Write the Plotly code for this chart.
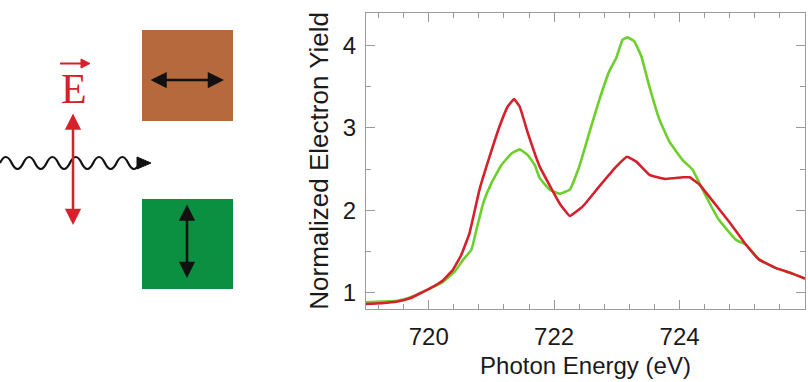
import plotly.graph_objects as go

W, H = 808, 382

# ---- data ----
red_x = [719.0, 719.25, 719.5, 719.7, 720.02, 720.23, 720.39, 720.52, 720.65, 720.81, 720.97,
         721.13, 721.26, 721.36, 721.45, 721.58, 721.77, 721.93, 722.09, 722.25, 722.46, 722.72,
         722.99, 723.16, 723.31, 723.52, 723.78, 724.05, 724.16, 724.32, 724.53, 724.79, 725.06,
         725.27, 725.53, 725.80, 726.0]
red_y = [0.86, 0.87, 0.89, 0.93, 1.05, 1.15, 1.28, 1.46, 1.72, 2.25, 2.65,
         3.02, 3.26, 3.35, 3.26, 2.94, 2.53, 2.30, 2.08, 1.93, 2.05, 2.29,
         2.53, 2.65, 2.59, 2.43, 2.38, 2.40, 2.40, 2.31, 2.11, 1.86, 1.58,
         1.40, 1.30, 1.23, 1.17]

green_x = [719.0, 719.25, 719.5, 719.7, 720.02, 720.23, 720.42, 720.55, 720.68, 720.76, 720.87,
           721.0, 721.16, 721.32, 721.45, 721.58, 721.69, 721.77, 721.93, 722.09, 722.25, 722.40,
           722.56, 722.72, 722.88, 722.99, 723.09, 723.17, 723.28, 723.39, 723.52, 723.68, 723.84,
           724.05, 724.21, 724.42, 724.63, 724.90, 725.06, 725.27, 725.53, 725.80, 726.0]
green_y = [0.88, 0.89, 0.90, 0.94, 1.05, 1.13, 1.26, 1.40, 1.52, 1.76, 2.09,
           2.33, 2.55, 2.69, 2.74, 2.67, 2.55, 2.39, 2.25, 2.20, 2.25, 2.53,
           2.94, 3.34, 3.69, 3.85, 4.07, 4.10, 4.05, 3.87, 3.50, 3.10, 2.83,
           2.61, 2.49, 2.17, 1.88, 1.64, 1.58, 1.40, 1.30, 1.23, 1.17]

x_ticks = [720, 722, 724]
y_ticks = [1, 2, 3, 4]

RED = "#d6202b"
GREEN = "#6dcf2c"
FRAME = "#9a9a9a"


def px(x):
    return x / W


def py(y):
    return 1 - y / H


fig = go.Figure()
fig.add_trace(go.Scatter(x=green_x, y=green_y, mode="lines",
                         line=dict(color=GREEN, width=2.6, shape="spline", smoothing=0.3),
                         showlegend=False))
fig.add_trace(go.Scatter(x=red_x, y=red_y, mode="lines",
                         line=dict(color=RED, width=2.6, shape="spline", smoothing=0.3),
                         showlegend=False))

axis_common = dict(showgrid=False, zeroline=False, showline=True, linecolor=FRAME, linewidth=1,
                   mirror="ticks", ticks="inside", tickcolor=FRAME, ticklen=9, tickwidth=1,
                   tickfont=dict(family="Liberation Sans, Arial, sans-serif", size=24, color="#1a1a1a"),
                   automargin=False)

fig.update_xaxes(range=[719, 726], domain=[px(366), px(805)], tickvals=x_ticks,
                 minor=dict(dtick=0.4, tick0=720, ticks="inside", ticklen=5, tickcolor=FRAME),
                 title=dict(text="Photon Energy (eV)", standoff=8,
                            font=dict(family="Liberation Sans, Arial, sans-serif", size=24, color="#1a1a1a")),
                 ticklabelstandoff=6,
                 **axis_common)
fig.update_yaxes(range=[0.8, 4.4], domain=[py(309), py(12.7)], tickvals=y_ticks,
                 minor=dict(dtick=0.5, tick0=1, ticks="inside", ticklen=5, tickcolor=FRAME),
                 title=dict(text="Normalized Electron Yield", standoff=6,
                            font=dict(family="Liberation Sans, Arial, sans-serif", size=26, color="#1a1a1a")),
                 ticklabelstandoff=4,
                 **axis_common)

# ---- left-hand schematic (decoration) ----
shapes = []
shapes.append(dict(type="rect", xref="paper", yref="paper", x0=px(142), x1=px(233), y0=py(121), y1=py(30),
                   fillcolor="#b5693d", line=dict(width=0), layer="above"))
shapes.append(dict(type="rect", xref="paper", yref="paper", x0=px(142), x1=px(233), y0=py(289), y1=py(199),
                   fillcolor="#0b8f40", line=dict(width=0), layer="above"))

# wavy photon line
yc = 163
per = 23.3
amp = 6.0
segs = [f"M {px(0)},{py(yc)}"]
xcur = 0.0
sign = -1
while xcur + per / 2 <= 141:
    xm = xcur + per / 4
    xn = xcur + per / 2
    segs.append(f"Q {px(xm)},{py(yc + sign * amp * 2)} {px(xn)},{py(yc)}")
    xcur = xn
    sign = -sign
shapes.append(dict(type="path", xref="paper", yref="paper", path=" ".join(segs),
                   line=dict(color="#111111", width=2.2), layer="above"))
shapes.append(dict(type="path", xref="paper", yref="paper",
                   path=f"M {px(137)},{py(157)} L {px(151)},{py(163)} L {px(137)},{py(169)} Z",
                   fillcolor="#111111", line=dict(color="#111111", width=1), layer="above"))

# E-vector arrow above the letter
shapes.append(dict(type="line", xref="paper", yref="paper", x0=px(60), x1=px(84), y0=py(63.5), y1=py(63.5),
                   line=dict(color=RED, width=2), layer="above"))
shapes.append(dict(type="path", xref="paper", yref="paper",
                   path=f"M {px(81)},{py(59)} L {px(90)},{py(63.5)} L {px(81)},{py(68)} Z",
                   fillcolor=RED, line=dict(color=RED, width=1), layer="above"))

fig.update_layout(shapes=shapes)

annotations = []


def dbl_arrow(x0, y0, x1, y1, color, width):
    return dict(xref="paper", yref="paper", x=px(x1), y=py(y1), ax=x0 - x1, ay=y0 - y1,
                axref="pixel", ayref="pixel", text="", showarrow=True,
                arrowhead=2, startarrowhead=2, arrowside="end+start",
                arrowsize=1.3, startarrowsize=1.3, arrowwidth=width, arrowcolor=color)


annotations.append(dbl_arrow(149, 80, 224, 80, "#111111", 2.5))
annotations.append(dbl_arrow(187, 203, 187, 278, "#111111", 2.5))
annotations.append(dbl_arrow(73, 112, 73, 225, RED, 2.5))
annotations.append(dict(xref="paper", yref="paper", x=px(74), y=py(89), text="E", showarrow=False,
                        xanchor="center", yanchor="middle",
                        font=dict(family="Liberation Serif, Times New Roman, serif", size=42, color=RED)))

fig.update_layout(
    annotations=annotations,
    width=W, height=H,
    margin=dict(l=0, r=0, t=0, b=0),
    paper_bgcolor="white", plot_bgcolor="white",
    showlegend=False,
)

fig.write_html("out.html")
